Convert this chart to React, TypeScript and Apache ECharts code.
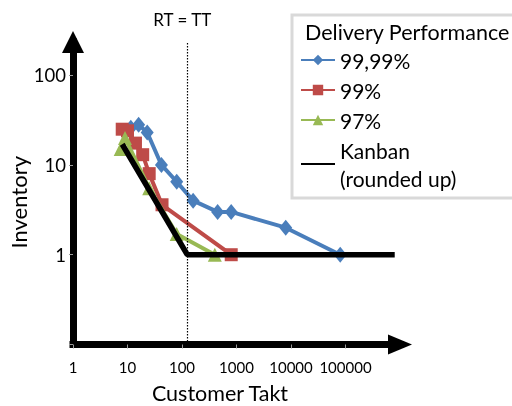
import React, { useEffect, useRef } from 'react';
import * as echarts from 'echarts';

const seriesNames = ['99,99%', '99%', '97%', 'Kanban\n(rounded up)'];
const blueData = [[11.5, 26], [16, 28], [23, 23], [42, 10], [80, 6.5], [160, 4], [450, 3], [800, 3], [8000, 2], [80000, 1]];
const redData = [[8, 25], [10, 24], [14, 17.5], [19, 13], [25, 8], [43, 3.6], [800, 1]];
const greenData = [[7.5, 15], [9, 20], [25, 5.5], [80, 1.7], [400, 1]];
const kanbanData = [[8, 17], [125, 1], [800000, 1]];
const rtEqualsTt = 125;
const xTickLabels = [1, 10, 100, 1000, 10000, 100000];
const yTickLabels = [1, 10, 100];
const xRange = [1, 1000000];
const yRange = [0.1, 234];
const legendTitle = 'Delivery Performance';
const xName = 'Customer Takt';
const yName = 'Inventory';
const markLabel = 'RT = TT';

const FONT = 'Lato, "Noto Sans", sans-serif';

function isLabel(v: number, list: number[]) {
  return list.some((t) => Math.abs(Math.log10(v) - Math.log10(t)) < 1e-6);
}

export default function App() {
  const ref = useRef<HTMLDivElement>(null);
  useEffect(() => {
    if (!ref.current) return;
    const chart = echarts.init(ref.current, null, { renderer: 'svg' });
    const lineCommon = {
      type: 'line',
      showSymbol: true,
      clip: false,
    };
    chart.setOption({
      animation: false,
      textStyle: { fontFamily: FONT },
      grid: {
        left: 73,
        right: 112,
        top: 42,
        bottom: 61.5,
        containLabel: false,
        outerBoundsMode: 'none',
      },
      xAxis: {
        type: 'log',
        logBase: 10,
        min: xRange[0],
        max: xRange[1],
        name: xName,
        nameLocation: 'middle',
        nameGap: 37,
        nameMoveOverlap: false,
        nameTextStyle: { fontSize: 21.5, color: '#000', fontFamily: FONT, padding: [0, 33, 0, 0] },
        axisLine: {
          show: true,
          symbol: ['none', 'triangle'],
          symbolSize: [20, 24],
          lineStyle: { color: '#000', width: 7, cap: 'square' },
        },
        axisTick: { show: true, length: 4, lineStyle: { color: '#999', width: 1 } },
        axisLabel: {
          fontSize: 15,
          color: '#000',
          fontFamily: FONT,
          margin: 15,
          showMinLabel: true,
          showMaxLabel: true,
          formatter: (v: number) => (isLabel(v, xTickLabels) ? String(Math.round(v)) : ''),
        },
        splitLine: { show: false },
      },
      yAxis: {
        type: 'log',
        logBase: 10,
        min: yRange[0],
        max: yRange[1],
        name: yName,
        nameLocation: 'middle',
        nameGap: 44,
        nameMoveOverlap: false,
        nameRotate: 90,
        nameTextStyle: { fontSize: 22, color: '#000', fontFamily: FONT, padding: [0, 18, 0, 0] },
        axisLine: {
          show: true,
          symbol: ['none', 'triangle'],
          symbolSize: [22, 22],
          lineStyle: { color: '#000', width: 7, cap: 'square' },
        },
        axisTick: { show: true, length: 4, lineStyle: { color: '#999', width: 1 } },
        axisLabel: {
          fontSize: 18.5,
          color: '#000',
          fontFamily: FONT,
          margin: 7,
          padding: [6, 0, 0, 0],
          showMinLabel: true,
          showMaxLabel: true,
          formatter: (v: number) => (isLabel(v, yTickLabels) ? String(Math.round(v)) : ''),
        },
        splitLine: { show: false },
      },
      legend: {
        orient: 'vertical',
        left: 300,
        top: 46,
        itemGap: 2,
        itemWidth: 34,
        itemHeight: 13,
        padding: 0,
        z: 5,
        data: [
          seriesNames[0],
          seriesNames[1],
          seriesNames[2],
          { name: seriesNames[3], itemStyle: { color: 'rgba(0,0,0,0)', borderWidth: 0, opacity: 0 } },
        ],
        textStyle: { fontSize: 21, color: '#000', fontFamily: FONT, lineHeight: 28 },
      },
      graphic: [
        {
          type: 'rect',
          z: 3,
          shape: { x: 292, y: 15, width: 240, height: 183 },
          style: { fill: '#fff', stroke: '#d9d9d9', lineWidth: 3 },
        },
        {
          type: 'text',
          z: 6,
          x: 305,
          y: 32,
          style: {
            text: legendTitle,
            fontSize: 21.5,
            fontFamily: FONT,
            fill: '#000',
            verticalAlign: 'middle',
            align: 'left',
          },
        },
      ],
      series: [
        {
          ...lineCommon,
          name: seriesNames[0],
          data: blueData,
          symbol: 'diamond',
          symbolSize: [13, 16],
          itemStyle: { color: '#4A7EBB' },
          lineStyle: { color: '#4A7EBB', width: 4 },
          z: 2,
        },
        {
          ...lineCommon,
          name: seriesNames[1],
          data: redData,
          symbol: 'rect',
          symbolSize: 13,
          itemStyle: { color: '#BE4B48' },
          lineStyle: { color: '#BE4B48', width: 4 },
          z: 3,
        },
        {
          ...lineCommon,
          name: seriesNames[2],
          data: greenData,
          symbol: 'triangle',
          symbolSize: 14,
          itemStyle: { color: '#98B954' },
          lineStyle: { color: '#98B954', width: 4 },
          z: 4,
        },
        {
          ...lineCommon,
          name: seriesNames[3],
          data: kanbanData,
          symbol: 'none',
          showSymbol: false,
          itemStyle: { color: '#000' },
          lineStyle: { color: '#000', width: 5.5 },
          z: 5,
          markLine: {
            silent: true,
            symbol: ['none', 'none'],
            lineStyle: { color: '#000', type: [1.5, 1.5], width: 1.2 },
            label: {
              show: true,
              position: 'end',
              formatter: markLabel,
              fontSize: 17,
              color: '#000',
              fontFamily: FONT,
              distance: 14,
              offset: [-5, 0],
            },
            data: [{ xAxis: rtEqualsTt }],
          },
        },
      ],
    });
    return () => chart.dispose();
  }, []);
  return <div ref={ref} style={{ position: 'fixed', left: 0, top: 0, width: 512, height: 406 }} />;
}
